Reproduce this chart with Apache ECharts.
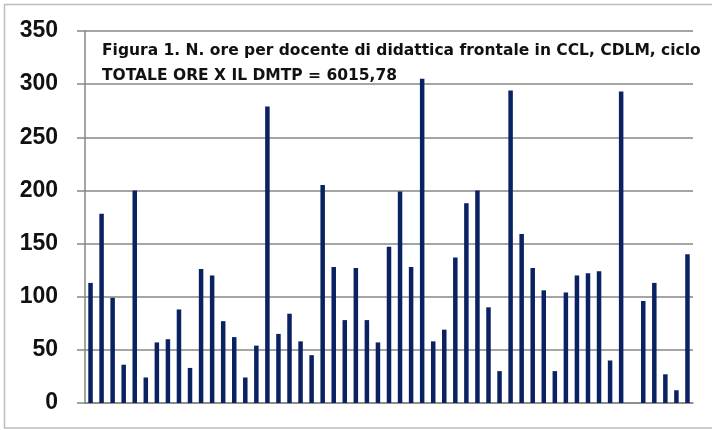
<!DOCTYPE html>
<html>
<head>
<meta charset="utf-8">
<script src="https://cdn.jsdelivr.net/npm/echarts@6/dist/echarts.min.js"></script>
<style>
  html, body { margin: 0; padding: 0; background: #fff; }
  #chart { width: 712px; height: 430px; }
</style>
</head>
<body>
<div id="chart"></div>
<script>
// ore per docente (55 docenti)
const docenti = Array.from({ length: 55 }, (_, i) => 'D' + (i + 1))
const ore = [
  113, 178, 99, 36, 200, 24, 57, 60, 88, 33,
  126, 120, 77, 62, 24, 54, 279, 65, 84, 58,
  45, 205, 128, 78, 127, 78, 57, 147, 199, 128,
  305, 58, 69, 137, 188, 200, 90, 30, 294, 159,
  127, 106, 30, 104, 120, 122, 124, 40, 293, 0,
  96, 113, 27, 12, 140
]
const titolo1 = 'Figura 1. N. ore per docente di didattica frontale in CCL, CDLM, ciclo'
const titolo2 = 'TOTALE ORE X IL DMTP = 6015,78'

const myChart = echarts.init(document.getElementById('chart'))
myChart.setOption({
  animation: false,
  grid: { left: 85, right: 19, top: 31, bottom: 27 },
  graphic: [
    {
      type: 'rect',
      shape: { x: 4.5, y: 4.5, width: 760, height: 423.5 },
      style: { fill: 'none', stroke: '#bdbdbd', lineWidth: 1.5 },
      silent: true
    },
    {
      type: 'text',
      left: 102, top: 38,
      style: {
        text: titolo1 + '\n' + titolo2,
        font: 'bold 15.5px "DejaVu Sans", sans-serif',
        fill: '#111',
        lineHeight: 25
      },
      z: 10
    }
  ],
  xAxis: {
    type: 'category',
    data: docenti,
    axisLine: { lineStyle: { color: '#878787', width: 1.5 } },
    axisTick: { show: false },
    axisLabel: { show: false }
  },
  yAxis: {
    type: 'value',
    min: 0,
    max: 350,
    interval: 50,
    axisLine: { show: true, lineStyle: { color: '#878787', width: 1.5 } },
    axisTick: { show: true, length: 8, lineStyle: { color: '#878787', width: 1.5 } },
    splitLine: { lineStyle: { color: '#878787', width: 1.5 } },
    axisLabel: {
      margin: 27,
      color: '#111',
      fontSize: 23,
      fontWeight: 'bold',
      fontFamily: '"Liberation Sans", Arial, sans-serif'
    }
  },
  series: [
    {
      type: 'bar',
      data: ore,
      barWidth: 4.5,
      itemStyle: { color: '#0a2162' }
    }
  ]
})
</script>
</body>
</html>
